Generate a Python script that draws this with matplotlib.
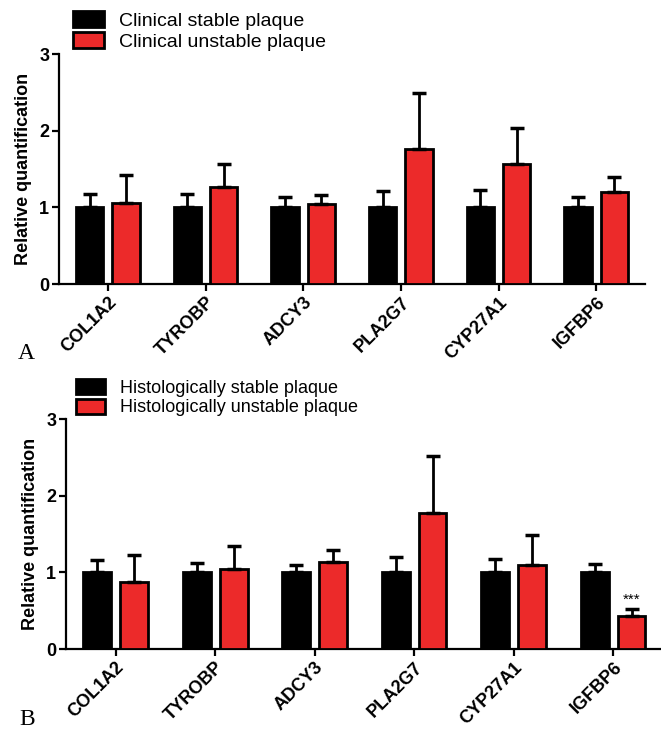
import matplotlib
matplotlib.use('Agg')
import matplotlib.pyplot as plt
import numpy as np

plt.rcParams['font.family'] = ['Liberation Sans', 'DejaVu Sans']

genes = ['COL1A2', 'TYROBP', 'ADCY3', 'PLA2G7', 'CYP27A1', 'IGFBP6']

# panel A: clinical
clin_stable = [1.0, 1.0, 1.0, 1.0, 1.0, 1.0]
clin_stable_err = [0.17, 0.18, 0.14, 0.21, 0.23, 0.14]
clin_unstable = [1.06, 1.27, 1.04, 1.76, 1.57, 1.20]
clin_unstable_err = [0.36, 0.30, 0.12, 0.73, 0.46, 0.20]

# panel B: histological
hist_stable = [1.0, 1.0, 1.0, 1.0, 1.0, 1.0]
hist_stable_err = [0.16, 0.12, 0.10, 0.20, 0.18, 0.11]
hist_unstable = [0.88, 1.05, 1.13, 1.77, 1.09, 0.43]
hist_unstable_err = [0.34, 0.30, 0.16, 0.75, 0.40, 0.09]

RED = '#EC2A2A'


def draw_panel(ax, stable, s_err, unstable, u_err, labels, leg_x, leg_size):
    x = np.arange(len(genes))
    w = 0.28
    off = 0.185
    ekw = dict(elinewidth=2, capthick=2.5)
    ax.bar(x - off, stable, w, color='black', edgecolor='black', linewidth=2,
           yerr=[np.zeros(len(s_err)), s_err], capsize=5, error_kw=ekw,
           label=labels[0], zorder=3)
    ax.bar(x + off, unstable, w, color=RED, edgecolor='black', linewidth=2,
           yerr=[np.zeros(len(u_err)), u_err], capsize=5, error_kw=ekw,
           label=labels[1], zorder=3)
    ax.set_xlim(-0.5, len(genes) - 0.5)
    ax.set_ylim(0, 3)
    ax.set_yticks([0, 1, 2, 3])
    ax.set_xticks(x)
    ax.set_xticklabels(genes, rotation=45, ha='right', rotation_mode='anchor',
                       fontweight='bold', fontsize=13)
    for t in ax.get_yticklabels():
        t.set_fontweight('bold')
        t.set_fontsize(13)
    ax.spines['top'].set_visible(False)
    ax.spines['right'].set_visible(False)
    ax.spines['left'].set_linewidth(1.6)
    ax.spines['bottom'].set_linewidth(1.6)
    ax.tick_params(axis='both', direction='out', length=5, width=1.6, pad=2)
    ax.set_ylabel('Relative quantification', fontweight='bold', fontsize=13,
                  labelpad=5)
    leg = ax.legend(loc='lower left', bbox_to_anchor=(leg_x, 0.98), frameon=False,
                    fontsize=leg_size, handlelength=1.6, handleheight=0.9,
                    handletextpad=0.8, labelspacing=0.1, borderaxespad=0)
    for p in leg.get_patches():
        p.set_linewidth(2)


fig = plt.figure(figsize=(6.61, 7.36), dpi=100)
axA = fig.add_axes([0.0893, 0.6141, 0.8865, 0.3125])
axB = fig.add_axes([0.0998, 0.1182, 0.903, 0.3125])

draw_panel(axA, clin_stable, clin_stable_err, clin_unstable, clin_unstable_err,
           ['Clinical stable plaque', 'Clinical unstable plaque'], 0.01, 14)
draw_panel(axB, hist_stable, hist_stable_err, hist_unstable, hist_unstable_err,
           ['Histologically stable plaque', 'Histologically unstable plaque'],
           0.005, 13)

axB.text(5 + 0.185, hist_unstable[5] + hist_unstable_err[5] + 0.03, '***',
         ha='center', va='bottom', fontsize=11)

fig.text(0.027, 0.505, 'A', family=['Liberation Serif', 'DejaVu Serif'],
         fontsize=17, va='bottom')
fig.text(0.030, 0.008, 'B', family=['Liberation Serif', 'DejaVu Serif'],
         fontsize=17, va='bottom')

fig.savefig('out.png', dpi=100)
